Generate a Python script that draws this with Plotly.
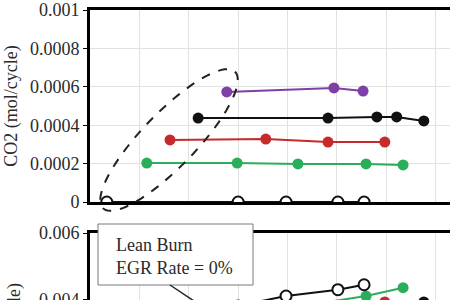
import numpy as np
import plotly.graph_objects as go

# ---- data (x in arbitrary operating-point units; ticks not visible in crop) ----
x_purple = [2.77, 4.94, 5.53]
co2_purple = [0.000573, 0.000594, 0.000578]
o2_purple = [0.0035, 0.0037, 0.0036]

x_black = [2.19, 4.82, 5.81, 6.21, 6.76]
co2_black = [0.000437, 0.000437, 0.000443, 0.000443, 0.000422]
o2_black = [0.0032, 0.0035, 0.0036, 0.0037, 0.00392]

x_red = [1.62, 3.56, 4.82, 5.97]
co2_red = [0.000323, 0.000328, 0.000312, 0.000312]
o2_red = [0.0030, 0.0034, 0.0037, 0.00392]

x_green = [1.15, 2.98, 4.21, 5.59, 6.34]
co2_green = [0.000203, 0.000203, 0.000198, 0.000198, 0.000193]
o2_green = [0.0032, 0.0035, 0.00378, 0.0041, 0.00435]

x_open = [0.34, 3.0, 3.97, 5.02, 5.55]
co2_open = [0.0, 0.0, 0.0, 0.0, 0.0]
o2_open = [0.0030, 0.0038, 0.0041, 0.00429, 0.00444]

co2_ticks = [0, 0.0002, 0.0004, 0.0006, 0.0008, 0.001]
co2_ticktext = ["0", "0.0002", "0.0004", "0.0006", "0.0008", "0.001"]
o2_ticks = [0.004, 0.006]
o2_ticktext = ["0.004", "0.006"]

series = [
    (x_purple, co2_purple, o2_purple, "#7E3FA6", "#7E3FA6"),
    (x_black, co2_black, o2_black, "#111111", "#111111"),
    (x_red, co2_red, o2_red, "#C62A2C", "#C62A2C"),
    (x_green, co2_green, o2_green, "#2BAE5C", "#2BAE5C"),
    (x_open, co2_open, o2_open, "#111111", "white"),
]

FONT = "Liberation Serif"
TXT = "#2a2a2a"
W, H = 450, 300
ML, MT = 90, 10
PW, PH = W - ML, H - MT

def px_x(px):
    return (px - ML) / PW

def px_y(py):
    return (H - py) / PH

fig = go.Figure()
for xs, c, o, col, fill in series:
    mk = dict(size=11, color=fill, line=dict(color=col, width=2 if fill == "white" else 0))
    fig.add_trace(go.Scatter(x=xs, y=c, mode="lines+markers", line=dict(color=col, width=2),
                             marker=mk, xaxis="x", yaxis="y", showlegend=False))
    fig.add_trace(go.Scatter(x=xs, y=o, mode="lines+markers", line=dict(color=col, width=2),
                             marker=mk, xaxis="x2", yaxis="y2", showlegend=False))

grid = "#e2e2e2"
axfont = dict(family=FONT, size=18, color=TXT)
xr = [0, 7.29]

fig.update_layout(
    width=W, height=H,
    margin=dict(l=ML, r=0, t=MT, b=0, autoexpand=False),
    paper_bgcolor="white", plot_bgcolor="white",
    xaxis=dict(domain=[0, 1], anchor="y", range=xr, dtick=1, showgrid=True, gridcolor=grid,
               showline=True, linecolor="black", linewidth=3, mirror=True, automargin=False,
               showticklabels=False, zeroline=False, ticks=""),
    yaxis=dict(domain=[px_y(202), 1], anchor="x", range=[0, 0.001], automargin=False,
               tickvals=co2_ticks, ticktext=co2_ticktext, showgrid=True, gridcolor=grid,
               showline=True, linecolor="black", linewidth=3, zeroline=False,
               ticks="outside", ticklen=4, tickcolor="black", tickfont=axfont,
               ticklabeloverflow="allow",
               title=dict(text="CO2 (mol/cycle)", font=dict(family=FONT, size=18, color=TXT),
                          standoff=8)),
    xaxis2=dict(domain=[0, 1], anchor="y2", range=xr, dtick=1, showgrid=True, gridcolor=grid,
                side="top", showline=True, linecolor="black", linewidth=3, mirror=False,
                automargin=False, showticklabels=False, zeroline=False, ticks=""),
    yaxis2=dict(domain=[0, px_y(233)], anchor="x2", range=[0.00398, 0.006], automargin=False,
                tickvals=o2_ticks, ticktext=o2_ticktext, showgrid=True, gridcolor=grid,
                showline=True, linecolor="black", linewidth=3, zeroline=False,
                ticks="outside", ticklen=4, tickcolor="black", tickfont=axfont,
                ticklabeloverflow="allow"),
)

# bottom axis title (only its end is visible)
fig.add_annotation(text="O2 (mol/cycle)", textangle=-90, xref="paper", yref="paper",
                   x=px_x(14), y=px_y(282), xanchor="center", yanchor="top", showarrow=False,
                   font=dict(family=FONT, size=18, color=TXT))

# Lean burn label box
fig.add_shape(type="rect", xref="paper", yref="paper", layer="above",
              x0=px_x(98), x1=px_x(253), y0=px_y(285), y1=px_y(224),
              fillcolor="white", line=dict(color="#7a7a7a", width=1))
fig.add_annotation(text="Lean Burn<br>EGR Rate = 0%", xref="paper", yref="paper",
                   x=px_x(114), y=px_y(256), xanchor="left", yanchor="middle",
                   showarrow=False, align="left",
                   font=dict(family=FONT, size=18, color=TXT))

# leader line from the box
fig.add_shape(type="line", xref="paper", yref="paper",
              x0=px_x(170), y0=px_y(285), x1=px_x(206), y1=px_y(309),
              line=dict(color="#222222", width=1.5))

# dashed ellipse around the zero-EGR points
cx, cy, a, b, phi = 169, 140, 95, 27, np.deg2rad(46)
t = np.linspace(0, 2 * np.pi, 73)
pxs = cx + a * np.cos(t) * np.cos(phi) + b * np.sin(t) * np.sin(phi)
pys = cy - a * np.cos(t) * np.sin(phi) + b * np.sin(t) * np.cos(phi)
path = "M " + " L ".join(f"{px_x(u):.4f},{px_y(v):.4f}" for u, v in zip(pxs, pys)) + " Z"
fig.add_shape(type="path", path=path, xref="paper", yref="paper",
              line=dict(color="#222222", width=2, dash="dash"))

fig.write_html("out.html")
